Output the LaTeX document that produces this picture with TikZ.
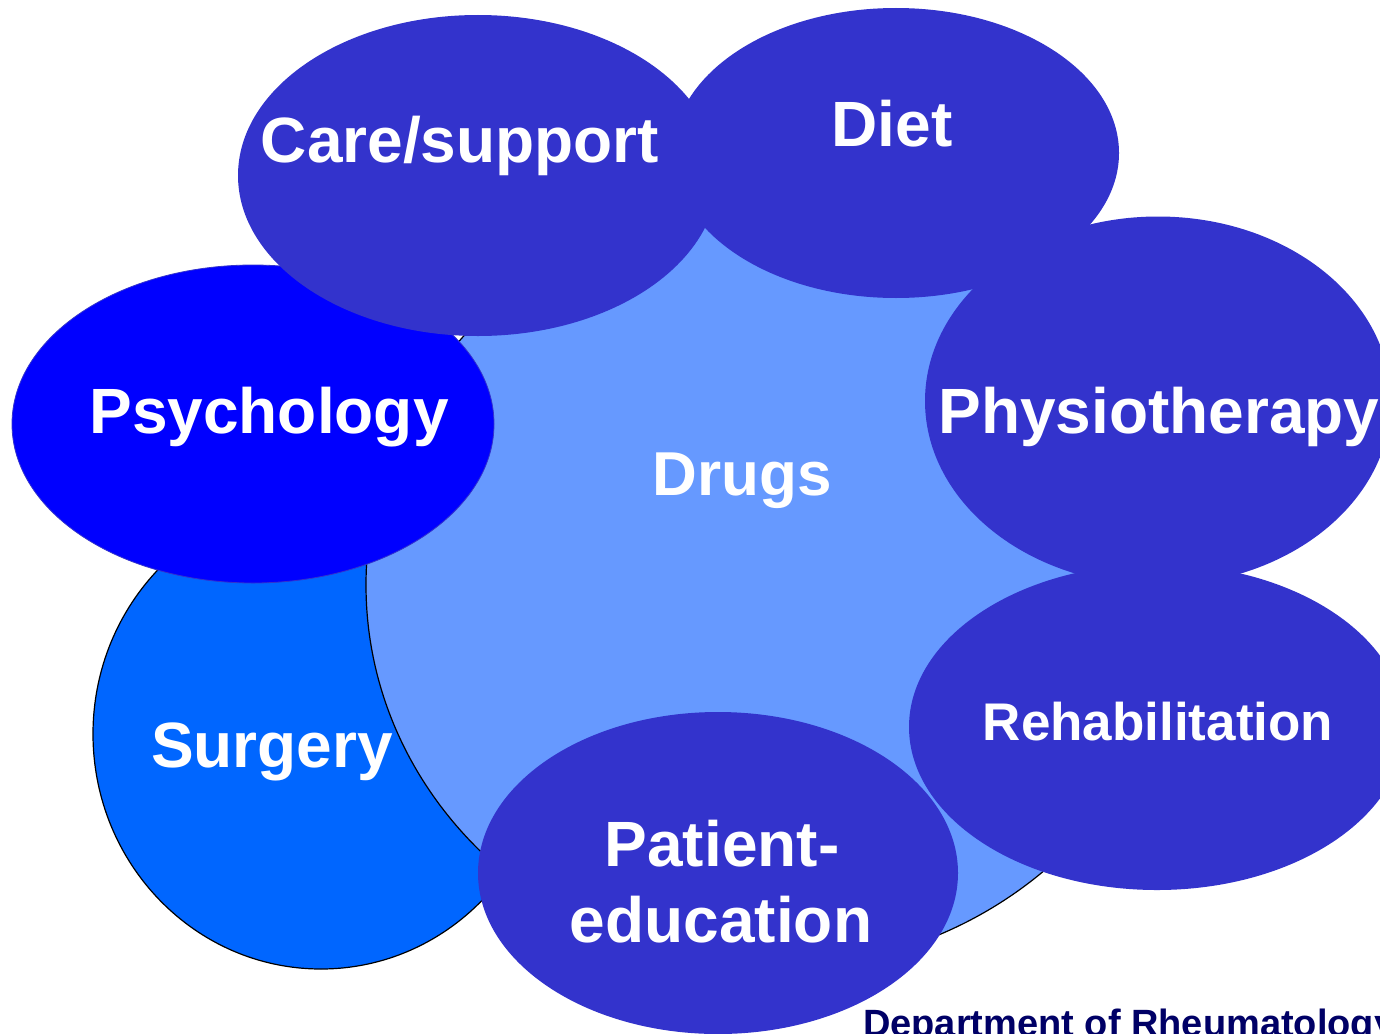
\documentclass[tikz,border=0pt]{standalone}
\usepackage{fontspec}
\setmainfont{Liberation Sans}
\usetikzlibrary{shapes.geometric}
\definecolor{blobc}{HTML}{3333CC}
\definecolor{drugc}{HTML}{6699FF}
\definecolor{surgc}{HTML}{0066FF}
\definecolor{psyc}{HTML}{0000FF}
\definecolor{deptc}{HTML}{000066}
\begin{document}
\begin{tikzpicture}[x=1pt,y=-1pt,
  blob/.style={ellipse, inner sep=0pt, outer sep=0pt},
  darkblob/.style={blob, fill=blobc},
  lbl/.style={text=white, font=\bfseries\fontsize{64}{76}\selectfont, inner sep=0pt, anchor=base}]
\useasboundingbox (0,0) rectangle (1380,1033);
\fill[white] (0,0) rectangle (1380,1033);
\clip (0,0) rectangle (1380,1033);
% shapes, back to front
\node[blob, fill=surgc, draw=black, line width=1.2pt, minimum width=456pt, minimum height=470pt] (surgery) at (321,734) {};
\node[blob, fill=drugc, draw=black, line width=1.2pt, minimum width=814pt, minimum height=766pt] (drugs) at (773,585) {};
\node[blob, fill=psyc, draw=blobc, line width=0.8pt, minimum width=482pt, minimum height=318pt] (psych) at (253,424) {};
\node[darkblob, minimum width=480pt, minimum height=321pt] (care) at (478,175.5) {};
\node[darkblob, minimum width=446pt, minimum height=290pt] (diet) at (896,153) {};
\node[darkblob, minimum width=466pt, minimum height=369pt] (physio) at (1158,401) {};
\node[darkblob, minimum width=496pt, minimum height=326pt] (rehab) at (1157,727) {};
\node[darkblob, minimum width=480pt, minimum height=322pt] (patient) at (718,873) {};
% labels
\node[lbl] (tcare) at (460,162) {Care/support};
\node[lbl] (tdiet) at (892,146) {Diet};
\node[lbl] (tpsych) at (269,433) {Psychology};
\node[lbl] (tphysio) at (1159,433) {Physiotherapy};
\node[lbl, font=\bfseries\fontsize{62}{74}\selectfont] (tdrugs) at (742,495) {Drugs};
\node[lbl, font=\bfseries\fontsize{53}{64}\selectfont] (trehab) at (1158,740) {Rehabilitation};
\node[lbl] (tpat1) at (722,866) {Patient-};
\node[lbl] (tpat2) at (721,942) {education};
\node[lbl] (tsurg) at (272,767) {Surgery};
\node[text=deptc, font=\bfseries\fontsize{38}{45}\selectfont, inner sep=0pt, anchor=base west] (dept) at (863,1036) {Department of Rheumatology};
\end{tikzpicture}
\end{document}
